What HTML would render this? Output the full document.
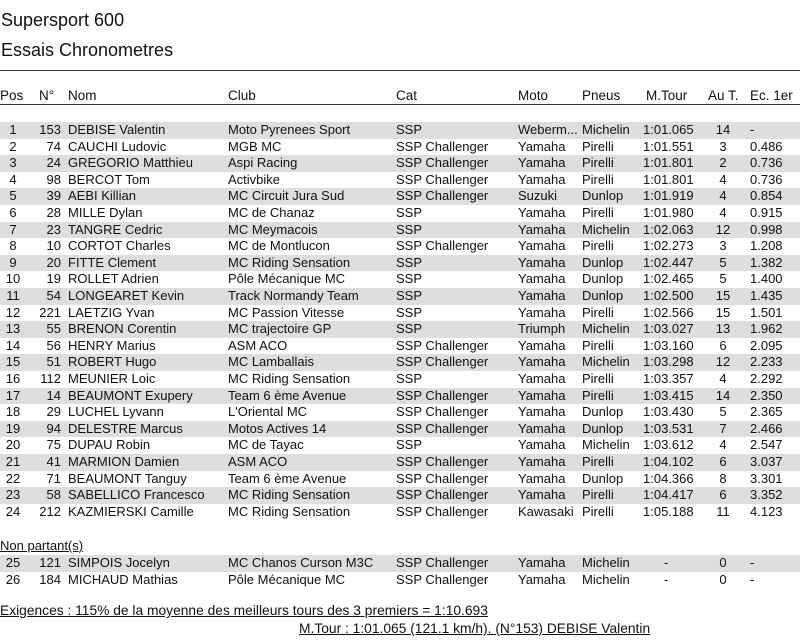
<!DOCTYPE html><html><head><meta charset="utf-8"><style>
body{margin:0;width:800px;height:641px;background:#fff;font-family:"Liberation Sans",Arial,sans-serif;color:#111;position:relative;overflow:hidden}
.t{position:absolute;white-space:nowrap}
.r{position:absolute;left:0;width:800px;height:16.6px;font-size:13px;line-height:16.6px}
.g{background:#dedede}
.r span{position:absolute;top:0;white-space:nowrap}
.p{left:0;width:26px;text-align:center}.n{left:30px;width:31px;text-align:right}.nm{left:68px}.c{left:228px}.ca{left:396px}.m{left:518px}.pn{left:582px}.mt{left:643px}.au{left:700px;width:46px;text-align:center}.ec{left:750px}
</style></head><body>
<div class="t" style="left:1px;top:10px;font-size:18px">Supersport 600</div>
<div class="t" style="left:1px;top:40px;font-size:18px">Essais Chronometres</div>
<div style="position:absolute;left:0;top:70px;width:800px;height:1px;background:#333"></div>
<div class="r" style="top:88px;font-size:13.5px"><span class="t" style="left:0">Pos</span><span style="left:39px">N°</span><span class="nm">Nom</span><span class="c">Club</span><span class="ca">Cat</span><span class="m">Moto</span><span class="pn">Pneus</span><span style="left:646px">M.Tour</span><span style="left:708px">Au T.</span><span style="left:750px">Ec. 1er</span></div>
<div style="position:absolute;left:0;top:104px;width:800px;height:1px;background:#333"></div>

<div class="r g" style="top:122px"><span class="p">1</span><span class="n">153</span><span class="nm">DEBISE Valentin</span><span class="c">Moto Pyrenees Sport</span><span class="ca">SSP</span><span class="m">Weberm...</span><span class="pn">Michelin</span><span class="mt">1:01.065</span><span class="au">14</span><span class="ec">-</span></div>
<div class="r" style="top:138.6px"><span class="p">2</span><span class="n">74</span><span class="nm">CAUCHI Ludovic</span><span class="c">MGB MC</span><span class="ca">SSP Challenger</span><span class="m">Yamaha</span><span class="pn">Pirelli</span><span class="mt">1:01.551</span><span class="au">3</span><span class="ec">0.486</span></div>
<div class="r g" style="top:155.2px"><span class="p">3</span><span class="n">24</span><span class="nm">GREGORIO Matthieu</span><span class="c">Aspi Racing</span><span class="ca">SSP Challenger</span><span class="m">Yamaha</span><span class="pn">Pirelli</span><span class="mt">1:01.801</span><span class="au">2</span><span class="ec">0.736</span></div>
<div class="r" style="top:171.8px"><span class="p">4</span><span class="n">98</span><span class="nm">BERCOT Tom</span><span class="c">Activbike</span><span class="ca">SSP Challenger</span><span class="m">Yamaha</span><span class="pn">Pirelli</span><span class="mt">1:01.801</span><span class="au">4</span><span class="ec">0.736</span></div>
<div class="r g" style="top:188.4px"><span class="p">5</span><span class="n">39</span><span class="nm">AEBI Killian</span><span class="c">MC Circuit Jura Sud</span><span class="ca">SSP Challenger</span><span class="m">Suzuki</span><span class="pn">Dunlop</span><span class="mt">1:01.919</span><span class="au">4</span><span class="ec">0.854</span></div>
<div class="r" style="top:205px"><span class="p">6</span><span class="n">28</span><span class="nm">MILLE Dylan</span><span class="c">MC de Chanaz</span><span class="ca">SSP</span><span class="m">Yamaha</span><span class="pn">Pirelli</span><span class="mt">1:01.980</span><span class="au">4</span><span class="ec">0.915</span></div>
<div class="r g" style="top:221.6px"><span class="p">7</span><span class="n">23</span><span class="nm">TANGRE Cedric</span><span class="c">MC Meymacois</span><span class="ca">SSP</span><span class="m">Yamaha</span><span class="pn">Michelin</span><span class="mt">1:02.063</span><span class="au">12</span><span class="ec">0.998</span></div>
<div class="r" style="top:238.2px"><span class="p">8</span><span class="n">10</span><span class="nm">CORTOT Charles</span><span class="c">MC de Montlucon</span><span class="ca">SSP Challenger</span><span class="m">Yamaha</span><span class="pn">Pirelli</span><span class="mt">1:02.273</span><span class="au">3</span><span class="ec">1.208</span></div>
<div class="r g" style="top:254.8px"><span class="p">9</span><span class="n">20</span><span class="nm">FITTE Clement</span><span class="c">MC Riding Sensation</span><span class="ca">SSP</span><span class="m">Yamaha</span><span class="pn">Dunlop</span><span class="mt">1:02.447</span><span class="au">5</span><span class="ec">1.382</span></div>
<div class="r" style="top:271.4px"><span class="p">10</span><span class="n">19</span><span class="nm">ROLLET Adrien</span><span class="c">Pôle Mécanique MC</span><span class="ca">SSP</span><span class="m">Yamaha</span><span class="pn">Dunlop</span><span class="mt">1:02.465</span><span class="au">5</span><span class="ec">1.400</span></div>
<div class="r g" style="top:288px"><span class="p">11</span><span class="n">54</span><span class="nm">LONGEARET Kevin</span><span class="c">Track Normandy Team</span><span class="ca">SSP</span><span class="m">Yamaha</span><span class="pn">Dunlop</span><span class="mt">1:02.500</span><span class="au">15</span><span class="ec">1.435</span></div>
<div class="r" style="top:304.6px"><span class="p">12</span><span class="n">221</span><span class="nm">LAETZIG Yvan</span><span class="c">MC Passion Vitesse</span><span class="ca">SSP</span><span class="m">Yamaha</span><span class="pn">Pirelli</span><span class="mt">1:02.566</span><span class="au">15</span><span class="ec">1.501</span></div>
<div class="r g" style="top:321.2px"><span class="p">13</span><span class="n">55</span><span class="nm">BRENON Corentin</span><span class="c">MC trajectoire GP</span><span class="ca">SSP</span><span class="m">Triumph</span><span class="pn">Michelin</span><span class="mt">1:03.027</span><span class="au">13</span><span class="ec">1.962</span></div>
<div class="r" style="top:337.8px"><span class="p">14</span><span class="n">56</span><span class="nm">HENRY Marius</span><span class="c">ASM ACO</span><span class="ca">SSP Challenger</span><span class="m">Yamaha</span><span class="pn">Pirelli</span><span class="mt">1:03.160</span><span class="au">6</span><span class="ec">2.095</span></div>
<div class="r g" style="top:354.4px"><span class="p">15</span><span class="n">51</span><span class="nm">ROBERT Hugo</span><span class="c">MC Lamballais</span><span class="ca">SSP Challenger</span><span class="m">Yamaha</span><span class="pn">Michelin</span><span class="mt">1:03.298</span><span class="au">12</span><span class="ec">2.233</span></div>
<div class="r" style="top:371px"><span class="p">16</span><span class="n">112</span><span class="nm">MEUNIER Loic</span><span class="c">MC Riding Sensation</span><span class="ca">SSP</span><span class="m">Yamaha</span><span class="pn">Pirelli</span><span class="mt">1:03.357</span><span class="au">4</span><span class="ec">2.292</span></div>
<div class="r g" style="top:387.6px"><span class="p">17</span><span class="n">14</span><span class="nm">BEAUMONT Exupery</span><span class="c">Team 6 ème Avenue</span><span class="ca">SSP Challenger</span><span class="m">Yamaha</span><span class="pn">Pirelli</span><span class="mt">1:03.415</span><span class="au">14</span><span class="ec">2.350</span></div>
<div class="r" style="top:404.2px"><span class="p">18</span><span class="n">29</span><span class="nm">LUCHEL Lyvann</span><span class="c">L'Oriental MC</span><span class="ca">SSP Challenger</span><span class="m">Yamaha</span><span class="pn">Dunlop</span><span class="mt">1:03.430</span><span class="au">5</span><span class="ec">2.365</span></div>
<div class="r g" style="top:420.8px"><span class="p">19</span><span class="n">94</span><span class="nm">DELESTRE Marcus</span><span class="c">Motos Actives 14</span><span class="ca">SSP Challenger</span><span class="m">Yamaha</span><span class="pn">Dunlop</span><span class="mt">1:03.531</span><span class="au">7</span><span class="ec">2.466</span></div>
<div class="r" style="top:437.4px"><span class="p">20</span><span class="n">75</span><span class="nm">DUPAU Robin</span><span class="c">MC de Tayac</span><span class="ca">SSP</span><span class="m">Yamaha</span><span class="pn">Michelin</span><span class="mt">1:03.612</span><span class="au">4</span><span class="ec">2.547</span></div>
<div class="r g" style="top:454px"><span class="p">21</span><span class="n">41</span><span class="nm">MARMION Damien</span><span class="c">ASM ACO</span><span class="ca">SSP Challenger</span><span class="m">Yamaha</span><span class="pn">Pirelli</span><span class="mt">1:04.102</span><span class="au">6</span><span class="ec">3.037</span></div>
<div class="r" style="top:470.6px"><span class="p">22</span><span class="n">71</span><span class="nm">BEAUMONT Tanguy</span><span class="c">Team 6 ème Avenue</span><span class="ca">SSP Challenger</span><span class="m">Yamaha</span><span class="pn">Dunlop</span><span class="mt">1:04.366</span><span class="au">8</span><span class="ec">3.301</span></div>
<div class="r g" style="top:487.2px"><span class="p">23</span><span class="n">58</span><span class="nm">SABELLICO Francesco</span><span class="c">MC Riding Sensation</span><span class="ca">SSP Challenger</span><span class="m">Yamaha</span><span class="pn">Pirelli</span><span class="mt">1:04.417</span><span class="au">6</span><span class="ec">3.352</span></div>
<div class="r" style="top:503.8px"><span class="p">24</span><span class="n">212</span><span class="nm">KAZMIERSKI Camille</span><span class="c">MC Riding Sensation</span><span class="ca">SSP Challenger</span><span class="m">Kawasaki</span><span class="pn">Pirelli</span><span class="mt">1:05.188</span><span class="au">11</span><span class="ec">4.123</span></div>

<div class="t" style="left:0;top:538px;font-size:13px;text-decoration:underline">Non partant(s)</div>
<div class="r g" style="top:555px"><span class="p">25</span><span class="n">121</span><span class="nm">SIMPOIS Jocelyn</span><span class="c">MC Chanos Curson M3C</span><span class="ca">SSP Challenger</span><span class="m">Yamaha</span><span class="pn">Michelin</span><span class="mt" style="left:664px">-</span><span class="au">0</span><span class="ec">-</span></div>
<div class="r" style="top:571.6px"><span class="p">26</span><span class="n">184</span><span class="nm">MICHAUD Mathias</span><span class="c">Pôle Mécanique MC</span><span class="ca">SSP Challenger</span><span class="m">Yamaha</span><span class="pn">Michelin</span><span class="mt" style="left:664px">-</span><span class="au">0</span><span class="ec">-</span></div>

<div class="t" style="left:0;top:603px;font-size:13.8px;text-decoration:underline">Exigences : 115% de la moyenne des meilleurs tours des 3 premiers = 1:10.693</div>
<div class="t" style="left:299px;top:621px;font-size:13.8px;text-decoration:underline">M.Tour : 1:01.065 (121.1 km/h). (N°153) DEBISE Valentin</div>
</body></html>
